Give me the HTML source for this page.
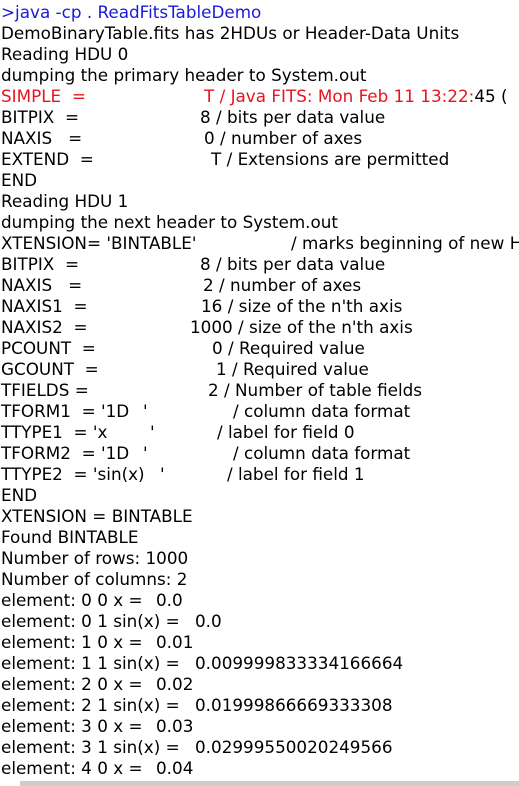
<!DOCTYPE html>
<html><head><meta charset="utf-8"><style>
html,body{margin:0;padding:0;background:#fff;width:519px;height:786px;overflow:hidden;position:relative}
#w{position:absolute;left:0;top:0;width:519px;height:786px;overflow:hidden}
.l{position:absolute;left:1px;height:21px;line-height:21px;font-family:"DejaVu Sans","Liberation Sans",sans-serif;font-size:16.8px;color:#000;white-space:pre}
.b{color:#1a1adc}.r{color:#e8141e}
.sb{position:absolute;left:20px;right:0;top:781px;height:5px;background:#cdcdcd}
</style></head><body><div id="w">
<div class="l b" style="top:2px">&gt;java -cp . ReadFitsTableDemo</div>
<div class="l" style="top:23px">DemoBinaryTable.fits has 2HDUs or Header-Data Units</div>
<div class="l" style="top:44px">Reading HDU 0</div>
<div class="l" style="top:65px">dumping the primary header to System.out</div>
<div class="l r" style="top:86px">SIMPLE  =</div><div class="l r" style="top:86px;left:204px;width:315px;overflow:hidden">T / Java FITS: Mon Feb 11 13:22:<span style="color:#000">45 (</span></div>
<div class="l" style="top:107px">BITPIX  =</div><div class="l" style="top:107px;left:200px">8 / bits per data value</div>
<div class="l" style="top:128px">NAXIS   =</div><div class="l" style="top:128px;left:204px">0 / number of axes</div>
<div class="l" style="top:149px">EXTEND  =</div><div class="l" style="top:149px;left:211px">T / Extensions are permitted</div>
<div class="l" style="top:170px">END</div>
<div class="l" style="top:191px">Reading HDU 1</div>
<div class="l" style="top:212px">dumping the next header to System.out</div>
<div class="l" style="top:233px">XTENSION= 'BINTABLE'</div><div class="l" style="top:233px;left:291px;width:228px;overflow:hidden">/ marks beginning of new HDU</div>
<div class="l" style="top:254px">BITPIX  =</div><div class="l" style="top:254px;left:200px">8 / bits per data value</div>
<div class="l" style="top:275px">NAXIS   =</div><div class="l" style="top:275px;left:203px">2 / number of axes</div>
<div class="l" style="top:296px">NAXIS1  =</div><div class="l" style="top:296px;left:201px">16 / size of the n'th axis</div>
<div class="l" style="top:317px">NAXIS2  =</div><div class="l" style="top:317px;left:190px">1000 / size of the n'th axis</div>
<div class="l" style="top:338px">PCOUNT  =</div><div class="l" style="top:338px;left:212px">0 / Required value</div>
<div class="l" style="top:359px">GCOUNT  =</div><div class="l" style="top:359px;left:216px">1 / Required value</div>
<div class="l" style="top:380px">TFIELDS =</div><div class="l" style="top:380px;left:208px">2 / Number of table fields</div>
<div class="l" style="top:401px">TFORM1  = '1D</div><div class="l" style="top:401px;left:143px">'</div><div class="l" style="top:401px;left:233px">/ column data format</div>
<div class="l" style="top:422px">TTYPE1  = 'x</div><div class="l" style="top:422px;left:150px">'</div><div class="l" style="top:422px;left:217px">/ label for field 0</div>
<div class="l" style="top:443px">TFORM2  = '1D</div><div class="l" style="top:443px;left:143px">'</div><div class="l" style="top:443px;left:233px">/ column data format</div>
<div class="l" style="top:464px">TTYPE2  = 'sin(x)</div><div class="l" style="top:464px;left:160px">'</div><div class="l" style="top:464px;left:227px">/ label for field 1</div>
<div class="l" style="top:485px">END</div>
<div class="l" style="top:506px">XTENSION = BINTABLE</div>
<div class="l" style="top:527px">Found BINTABLE</div>
<div class="l" style="top:548px">Number of rows: 1000</div>
<div class="l" style="top:569px">Number of columns: 2</div>
<div class="l" style="top:590px">element: 0 0 x =</div><div class="l" style="top:590px;left:156px">0.0</div>
<div class="l" style="top:611px">element: 0 1 sin(x) =</div><div class="l" style="top:611px;left:195px">0.0</div>
<div class="l" style="top:632px">element: 1 0 x =</div><div class="l" style="top:632px;left:156px">0.01</div>
<div class="l" style="top:653px">element: 1 1 sin(x) =</div><div class="l" style="top:653px;left:195px">0.009999833334166664</div>
<div class="l" style="top:674px">element: 2 0 x =</div><div class="l" style="top:674px;left:156px">0.02</div>
<div class="l" style="top:695px">element: 2 1 sin(x) =</div><div class="l" style="top:695px;left:195px">0.01999866669333308</div>
<div class="l" style="top:716px">element: 3 0 x =</div><div class="l" style="top:716px;left:156px">0.03</div>
<div class="l" style="top:737px">element: 3 1 sin(x) =</div><div class="l" style="top:737px;left:195px">0.02999550020249566</div>
<div class="l" style="top:758px">element: 4 0 x =</div><div class="l" style="top:758px;left:156px">0.04</div>
<div class="sb"></div>
</div></body></html>
